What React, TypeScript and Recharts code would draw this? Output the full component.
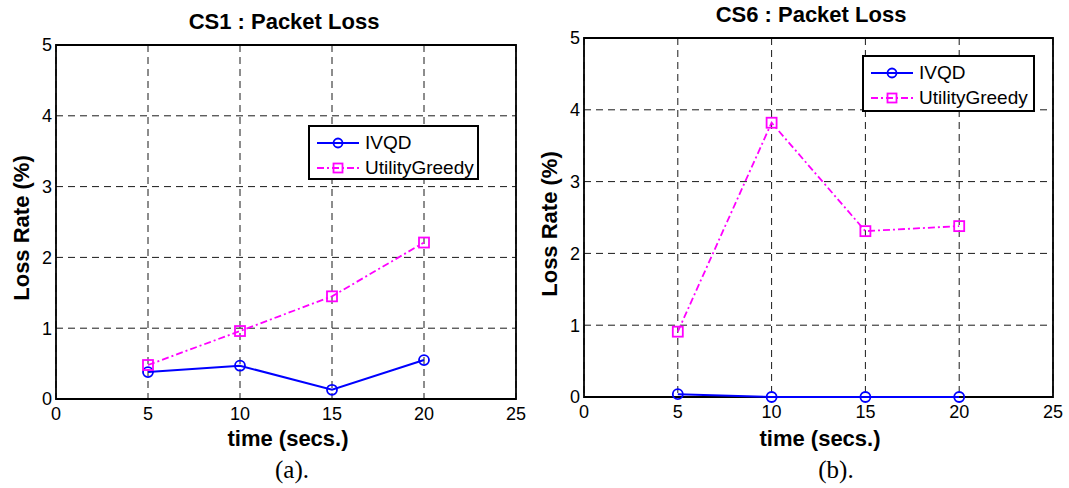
import React from 'react';
import {
  LineChart,
  Line,
  XAxis,
  YAxis,
  CartesianGrid,
  ReferenceArea,
  Legend,
} from 'recharts';

// ---- data ----
const times = [5, 10, 15, 20];
const xTicks = [0, 5, 10, 15, 20, 25];
const yTicks = [0, 1, 2, 3, 4, 5];
const seriesNames = ['IVQD', 'UtilityGreedy'];

const cs1IVQD = [0.38, 0.47, 0.13, 0.55];
const cs1Greedy = [0.48, 0.96, 1.45, 2.21];

const cs6IVQD = [0.04, 0, 0, 0];
const cs6Greedy = [0.91, 3.82, 2.31, 2.38];

const titles = ['CS1 : Packet Loss', 'CS6 : Packet Loss'];
const captions = ['(a).', '(b).'];
const xLabel = 'time (secs.)';
const yLabel = 'Loss Rate (%)';

const build = (a: number[], b: number[]) =>
  times.map((t, i) => ({ t, ivqd: a[i], greedy: b[i] }));

const SANS = '"Liberation Sans", Arial, Helvetica, sans-serif';
const SERIF = '"Liberation Serif", "Times New Roman", serif';
const BLUE = '#0000ff';
const MAGENTA = '#ff00ff';
const DASHDOT = '7 3 2 3';

const CircleDot = (p: any) => {
  if (p.cx == null || p.cy == null) return null;
  return (
    <circle
      key={`c-${p.index}`}
      cx={p.cx}
      cy={p.cy}
      r={5}
      fill="none"
      stroke={BLUE}
      strokeWidth={1.8}
    />
  );
};

const SquareDot = (p: any) => {
  if (p.cx == null || p.cy == null) return null;
  return (
    <rect
      key={`s-${p.index}`}
      x={p.cx - 5}
      y={p.cy - 5}
      width={10}
      height={10}
      fill="none"
      stroke={MAGENTA}
      strokeWidth={1.8}
    />
  );
};

const LegendBox = ({ w, h }: { w: number; h: number }) => (
  <div
    style={{
      width: w,
      height: h,
      boxSizing: 'border-box',
      border: '2px solid #000',
      background: '#fff',
      fontFamily: SANS,
      fontSize: 19,
      color: '#000',
      padding: '3px 0 0 7px',
    }}
  >
    <div style={{ display: 'flex', alignItems: 'center', height: 25 }}>
      <svg width={42} height={14} style={{ marginRight: 6 }}>
        <line x1={0} y1={7} x2={42} y2={7} stroke={BLUE} strokeWidth={2} />
        <circle cx={21} cy={7} r={4.5} fill="none" stroke={BLUE} strokeWidth={1.8} />
      </svg>
      <span>{seriesNames[0]}</span>
    </div>
    <div style={{ display: 'flex', alignItems: 'center', height: 25 }}>
      <svg width={42} height={14} style={{ marginRight: 6 }}>
        <line
          x1={0}
          y1={7}
          x2={42}
          y2={7}
          stroke={MAGENTA}
          strokeWidth={1.8}
          strokeDasharray={DASHDOT}
        />
        <rect x={16.5} y={2.5} width={9} height={9} fill="none" stroke={MAGENTA} strokeWidth={1.8} />
      </svg>
      <span>{seriesNames[1]}</span>
    </div>
  </div>
);

type PanelProps = {
  left: number;
  width: number;
  margin: { top: number; right: number; bottom: number; left: number };
  a: number[];
  b: number[];
  legend: { left: number; top: number; w: number; h: number };
};

const Panel = ({ left, width, margin, a, b, legend }: PanelProps) => (
  <div style={{ position: 'absolute', left, top: 0 }}>
    <LineChart width={width} height={488} data={build(a, b)} margin={margin}>
      <CartesianGrid
        stroke="#1a1a1a"
        strokeWidth={1}
        strokeDasharray="7 5"
        horizontalValues={yTicks}
        verticalValues={xTicks}
      />
      <XAxis
        dataKey="t"
        type="number"
        domain={[0, 25]}
        ticks={xTicks}
        axisLine={false}
        tickLine={false}
        height={30}
        interval={0}
        tick={{ fontFamily: SANS, fontSize: 18, fill: '#000' }}
      />
      <YAxis
        type="number"
        domain={[0, 5]}
        ticks={yTicks}
        axisLine={false}
        tickLine={false}
        tickSize={2}
        tickMargin={2}
        width={40}
        interval={0}
        tick={{ fontFamily: SANS, fontSize: 18, fill: '#000' }}
      />
      <ReferenceArea
        x1={0}
        x2={25}
        y1={0}
        y2={5}
        fill="none"
        fillOpacity={0}
        stroke="#000"
        strokeWidth={1.8}
      />
      <Line
        dataKey="ivqd"
        name={seriesNames[0]}
        stroke={BLUE}
        strokeWidth={2}
        dot={CircleDot}
        activeDot={false}
        isAnimationActive={false}
      />
      <Line
        dataKey="greedy"
        name={seriesNames[1]}
        stroke={MAGENTA}
        strokeWidth={1.8}
        strokeDasharray={DASHDOT}
        dot={SquareDot}
        activeDot={false}
        isAnimationActive={false}
      />
      <Legend
        layout="horizontal"
        verticalAlign="middle"
        align="center"
        wrapperStyle={{
          position: 'absolute',
          left: legend.left,
          top: legend.top,
          width: legend.w,
          height: legend.h,
        }}
        content={() => <LegendBox w={legend.w} h={legend.h} />}
      />
    </LineChart>
  </div>
);

const centered = (x: number, y: number, extra: React.CSSProperties): React.CSSProperties => ({
  position: 'absolute',
  left: x,
  top: y,
  transform: 'translate(-50%, -50%)',
  whiteSpace: 'nowrap',
  color: '#000',
  lineHeight: 1,
  ...extra,
});

const boldText: React.CSSProperties = { fontFamily: SANS, fontWeight: 'bold' };

export default function App() {
  return (
    <div
      style={{
        position: 'absolute',
        left: 0,
        top: 0,
        width: 1069,
        height: 488,
        background: '#fff',
        overflow: 'hidden',
      }}
    >
      <Panel
        left={0}
        width={530}
        margin={{ top: 45, right: 14, bottom: 59, left: 16 }}
        a={cs1IVQD}
        b={cs1Greedy}
        legend={{ left: 308, top: 125, w: 171, h: 55 }}
      />
      <Panel
        left={530}
        width={539}
        margin={{ top: 38, right: 16, bottom: 61, left: 14 }}
        a={cs6IVQD}
        b={cs6Greedy}
        legend={{ left: 332, top: 55, w: 173, h: 57 }}
      />

      <div style={centered(284, 22, { ...boldText, fontSize: 22 })}>{titles[0]}</div>
      <div style={centered(811, 15, { ...boldText, fontSize: 22 })}>{titles[1]}</div>

      <div
        style={{
          ...centered(22, 228, { ...boldText, fontSize: 22 }),
          transform: 'translate(-50%, -50%) rotate(-90deg)',
        }}
      >
        {yLabel}
      </div>
      <div
        style={{
          ...centered(550, 224, { ...boldText, fontSize: 22 }),
          transform: 'translate(-50%, -50%) rotate(-90deg)',
        }}
      >
        {yLabel}
      </div>

      <div style={centered(288, 439, { ...boldText, fontSize: 22 })}>{xLabel}</div>
      <div style={centered(820, 439, { ...boldText, fontSize: 22 })}>{xLabel}</div>

      <div style={centered(292, 469, { fontFamily: SERIF, fontSize: 25 })}>{captions[0]}</div>
      <div style={centered(836, 469, { fontFamily: SERIF, fontSize: 25 })}>{captions[1]}</div>
    </div>
  );
}
